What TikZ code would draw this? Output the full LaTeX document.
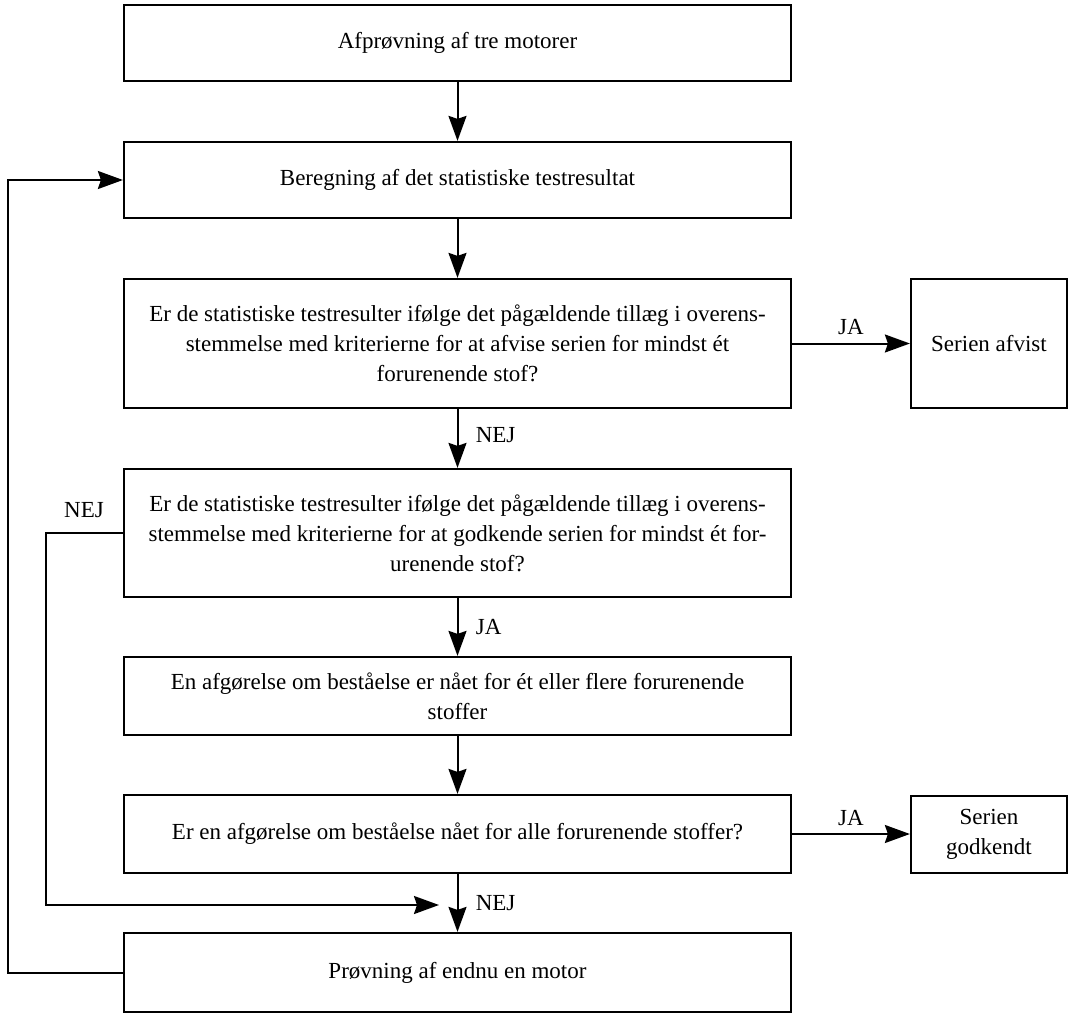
\documentclass[tikz,border=0pt]{standalone}
\usepackage{fontspec}
\setmainfont{Liberation Serif}
\usetikzlibrary{arrows.meta}
\begin{document}
\begin{tikzpicture}[x=1pt,y=-1pt,
  box/.style={draw,line width=2.2pt,minimum width=667pt,align=center,inner sep=0pt,
    font=\fontsize{23}{30}\selectfont},
  sbox/.style={draw,line width=2.2pt,minimum width=156pt,align=center,inner sep=0pt,
    font=\fontsize{23}{30}\selectfont},
  arr/.style={line width=2pt,-{Stealth[length=25pt,width=18pt,inset=3pt]}},
  lbl/.style={font=\fontsize{23}{26}\selectfont}]
\useasboundingbox (0,0) rectangle (1072,1017);
\node[box,minimum height=76pt] (b1) at (457.5,43) {Afprøvning af tre motorer};
\node[box,minimum height=76pt] (b2) at (457.5,180) {Beregning af det statistiske testresultat};
\node[box,minimum height=129pt] (b3) at (457.5,343.5) {Er de statistiske testresulter ifølge det pågældende tillæg i overens-\\stemmelse med kriterierne for at afvise serien for mindst ét\\forurenende stof?};
\node[sbox,minimum height=129pt] (af) at (989,343.5) {Serien afvist};
\node[box,minimum height=128pt] (b4) at (457.5,533) {Er de statistiske testresulter ifølge det pågældende tillæg i overens-\\stemmelse med kriterierne for at godkende serien for mindst ét for-\\urenende stof?};
\node[box,minimum height=78pt] (b5) at (457.5,696) {En afgørelse om beståelse er nået for ét eller flere forurenende\\stoffer};
\node[box,minimum height=78pt] (b6) at (457.5,834) {Er en afgørelse om beståelse nået for alle forurenende stoffer?};
\node[sbox,minimum height=77pt] (gk) at (989,834.5) {Serien\\godkendt};
\node[box,minimum height=79pt] (b7) at (457.5,972.5) {Prøvning af endnu en motor};
\draw[arr] (b1.south) -- (b2.north);
\draw[arr] (b2.south) -- (b3.north);
\draw[arr] (b3.south) -- (b4.north) node[lbl,pos=0.45,right=14pt] {NEJ};
\draw[arr] (b4.south) -- (b5.north) node[lbl,pos=0.5,right=14pt] {JA};
\draw[arr] (b5.south) -- (b6.north);
\draw[arr] (b6.south) -- (b7.north) node[lbl,pos=0.5,right=14pt] {NEJ};
\draw[arr] (b3.east) -- (af.west) node[lbl,midway,above=4pt] {JA};
\draw[arr] (b6.east) -- (gk.west |- b6.east) node[lbl,midway,above=4pt] {JA};
\coordinate (m) at (439,905);
\draw[arr] (b7.west) -- (8,972.5) -- (8,180) -- (b2.west);
\draw[arr] (b4.west) -- (46,533) -- (46,905) -- (m);
\node[lbl] (nej) at (84,510) {NEJ};
\end{tikzpicture}
\end{document}
